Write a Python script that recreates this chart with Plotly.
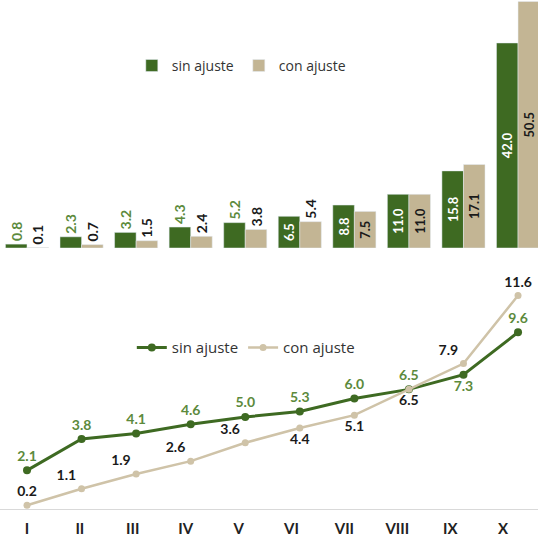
import plotly.graph_objects as go

# Deciles and the two income measures
categories = ["I", "II", "III", "IV", "V", "VI", "VII", "VIII", "IX", "X"]
bar_sin = [0.8, 2.3, 3.2, 4.3, 5.2, 6.5, 8.8, 11.0, 15.8, 42.0]
bar_con = [0.1, 0.7, 1.5, 2.4, 3.8, 5.4, 7.5, 11.0, 17.1, 50.5]
line_sin = [2.1, 3.8, 4.1, 4.6, 5.0, 5.3, 6.0, 6.5, 7.3, 9.6]
line_con = [0.2, 1.1, 1.9, 2.6, 3.6, 4.4, 5.1, 6.5, 7.9, 11.6]

GREEN = "#3e6a22"
GREEN_TXT = "#5c8a3c"
BEIGE = "#c3b594"
BEIGE_LINE = "#cfc3a8"
FONT = "Lato"
LEGEND_FONT = "Open Sans"

x_idx = list(range(len(categories)))

def bar_pos(vals):
    return ["inside" if v >= 6 else "outside" for v in vals]

fig = go.Figure()

fig.add_trace(go.Bar(
    x=x_idx, y=bar_sin, name="sin ajuste", marker_color=GREEN,
    text=[f"{v:.1f}" for v in bar_sin], textposition=bar_pos(bar_sin),
    textangle=-90, insidetextanchor="middle", cliponaxis=False,
    insidetextfont=dict(color="white", size=14, family=FONT, weight="bold"),
    outsidetextfont=dict(color=GREEN_TXT, size=14, family=FONT, weight="bold"),
    xaxis="x", yaxis="y", legend="legend",
))
fig.add_trace(go.Bar(
    x=x_idx, y=bar_con, name="con ajuste", marker_color=BEIGE,
    text=[f"{v:.1f}" for v in bar_con], textposition=bar_pos(bar_con),
    textangle=-90, insidetextanchor="middle", cliponaxis=False,
    insidetextfont=dict(color="#1a1a1a", size=14, family=FONT, weight="bold"),
    outsidetextfont=dict(color="#1a1a1a", size=14, family=FONT, weight="bold"),
    xaxis="x", yaxis="y", legend="legend",
))

sin_pos = ["top center"] * 8 + ["bottom center", "top center"]
con_pos = ["top center", "top left", "top left", "top left", "top left",
           "bottom center", "bottom center", "bottom center", "top left", "top center"]

fig.add_trace(go.Scatter(
    x=x_idx, y=line_sin, name="sin ajuste", mode="lines+markers+text",
    line=dict(color=GREEN, width=3), marker=dict(size=8, color=GREEN),
    text=[f"{v:.1f}" for v in line_sin], textposition=sin_pos,
    textfont=dict(color=GREEN_TXT, size=14, family=FONT, weight="bold"),
    cliponaxis=False, xaxis="x2", yaxis="y2", legend="legend2",
))
fig.add_trace(go.Scatter(
    x=x_idx, y=line_con, name="con ajuste", mode="lines+markers+text",
    line=dict(color=BEIGE_LINE, width=2.5), marker=dict(size=7, color=BEIGE_LINE),
    text=[f"{v:.1f}" for v in line_con], textposition=con_pos,
    textfont=dict(color="#1a1a1a", size=14, family=FONT, weight="bold"),
    cliponaxis=False, xaxis="x2", yaxis="y2", legend="legend2",
))

# Invisible carrier for the decile labels axis
fig.add_trace(go.Scatter(
    x=x_idx, y=[0] * len(x_idx), mode="markers", marker=dict(opacity=0),
    hoverinfo="skip", showlegend=False, xaxis="x3", yaxis="y2",
))

xr = [-0.495, 9.366]
fig.update_layout(
    width=538, height=540,
    margin=dict(l=0, r=0, t=0, b=0),
    paper_bgcolor="white", plot_bgcolor="white",
    font=dict(family=FONT, color="#333333"),
    barmode="group", bargap=0.21, bargroupgap=0,
    xaxis=dict(domain=[0, 1], range=xr, showticklabels=False, showgrid=False,
               zeroline=False, showline=False, anchor="y"),
    yaxis=dict(domain=[0.5407, 1], range=[0, 50.8], visible=False, anchor="x"),
    xaxis2=dict(domain=[0, 1], range=xr, showticklabels=False, showgrid=False,
                zeroline=False, showline=True, linecolor="#d9d9d9", linewidth=1,
                anchor="y2"),
    yaxis2=dict(domain=[0.0574, 0.463], range=[0, 11.9], visible=False, anchor="x2"),
    xaxis3=dict(domain=[0, 1], range=[-0.51, 9.66], overlaying="x2", anchor="y2",
                side="bottom", tickmode="array", tickvals=x_idx, ticktext=categories,
                showgrid=False, zeroline=False, showline=False, ticks="",
                ticklabelstandoff=9,
                tickfont=dict(size=15, color="#222222", family=FONT, weight="bold")),
    legend=dict(orientation="h", x=0.245, y=0.878, xanchor="left", yanchor="middle",
                font=dict(size=14, color="#333333", family=LEGEND_FONT), itemwidth=30,
                bgcolor="rgba(0,0,0,0)"),
    legend2=dict(orientation="h", x=0.245, y=0.356, xanchor="left", yanchor="middle",
                 font=dict(size=15, color="#333333", family=LEGEND_FONT), itemwidth=30,
                 bgcolor="rgba(0,0,0,0)"),
)

fig.write_html("out.html")
